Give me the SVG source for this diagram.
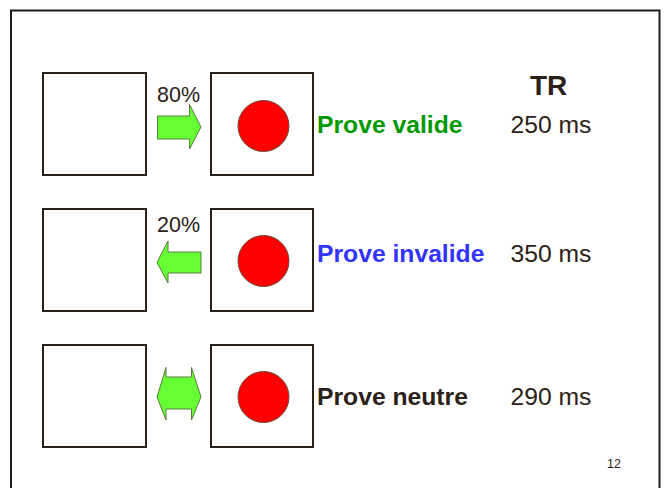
<svg xmlns="http://www.w3.org/2000/svg" width="669" height="488" viewBox="0 0 669 488">
  <style>
    .frame { fill: none; stroke: #1c1c1c; stroke-width: 2; }
    .box { fill: #ffffff; stroke: #2b2119; stroke-width: 2; }
    .dot { fill: #ff0000; stroke: #6b4a3a; stroke-width: 1; }
    .arrow { fill: #66ff33; stroke: #5a7a40; stroke-width: 1; stroke-linejoin: miter; }
    .pct { font-family: "Liberation Sans", Arial, sans-serif; font-size: 21.5px; fill: #2b2119; }
    .label { font-family: "Liberation Sans", Arial, sans-serif; font-size: 24.7px; font-weight: bold; }
    .ms { font-family: "Liberation Sans", Arial, sans-serif; font-size: 24.7px; fill: #2b2119; }
    .title { font-family: "Liberation Sans", Arial, sans-serif; font-size: 28px; font-weight: bold; fill: #2b2119; }
    .page { font-family: "Liberation Sans", Arial, sans-serif; font-size: 12.5px; fill: #2b2119; }
  </style>

  <rect width="669" height="488" fill="#ffffff"/>
  <!-- slide frame, open at the bottom -->
  <path class="frame" d="M11,490 V10.5 H659.5 V490"/>

  <text class="title" x="530" y="95">TR</text>

  <!-- row 1: valid cue -->
  <g id="row1-cue">
    <rect class="box" x="43" y="73" width="103" height="102"/>
  </g>
  <g id="row1-target">
    <rect class="box" x="211" y="73" width="102" height="102"/>
    <circle class="dot" cx="263.5" cy="126" r="25.5"/>
  </g>
  <g id="row1-arrow">
    <text class="pct" x="157" y="102">80%</text>
    <polygon class="arrow" points="157.5,116 189.5,116 189.5,104.5 201,127 189.5,149 189.5,139 157.5,139"/>
  </g>
  <g id="row1-result">
    <text class="label" x="317" y="133" fill="#009900">Prove valide</text>
    <text class="ms" x="510.5" y="133">250 ms</text>
  </g>

  <!-- row 2: invalid cue -->
  <g id="row2-cue">
    <rect class="box" x="43" y="209" width="103" height="102"/>
  </g>
  <g id="row2-target">
    <rect class="box" x="211" y="209" width="102" height="102"/>
    <circle class="dot" cx="263.5" cy="261" r="25.5"/>
  </g>
  <g id="row2-arrow">
    <text class="pct" x="157" y="232">20%</text>
    <polygon class="arrow" points="201,252 168,252 168,241 157,262.5 168,283 168,273 201,273"/>
  </g>
  <g id="row2-result">
    <text class="label" x="317" y="262" fill="#3333ff">Prove invalide</text>
    <text class="ms" x="510.5" y="262">350 ms</text>
  </g>

  <!-- row 3: neutral cue -->
  <g id="row3-cue">
    <rect class="box" x="43" y="345" width="103" height="102"/>
  </g>
  <g id="row3-target">
    <rect class="box" x="211" y="345" width="102" height="102"/>
    <circle class="dot" cx="263.5" cy="397" r="25.5"/>
  </g>
  <g id="row3-arrow">
    <polygon class="arrow" points="157,397 166,367.5 166,377 191.5,377 191.5,367.5 201,397 191.5,420 191.5,409 166,409 166,420"/>
  </g>
  <g id="row3-result">
    <text class="label" x="317" y="405" fill="#2b2119">Prove neutre</text>
    <text class="ms" x="510.5" y="405">290 ms</text>
  </g>

  <text class="page" x="607" y="468">12</text>
</svg>
